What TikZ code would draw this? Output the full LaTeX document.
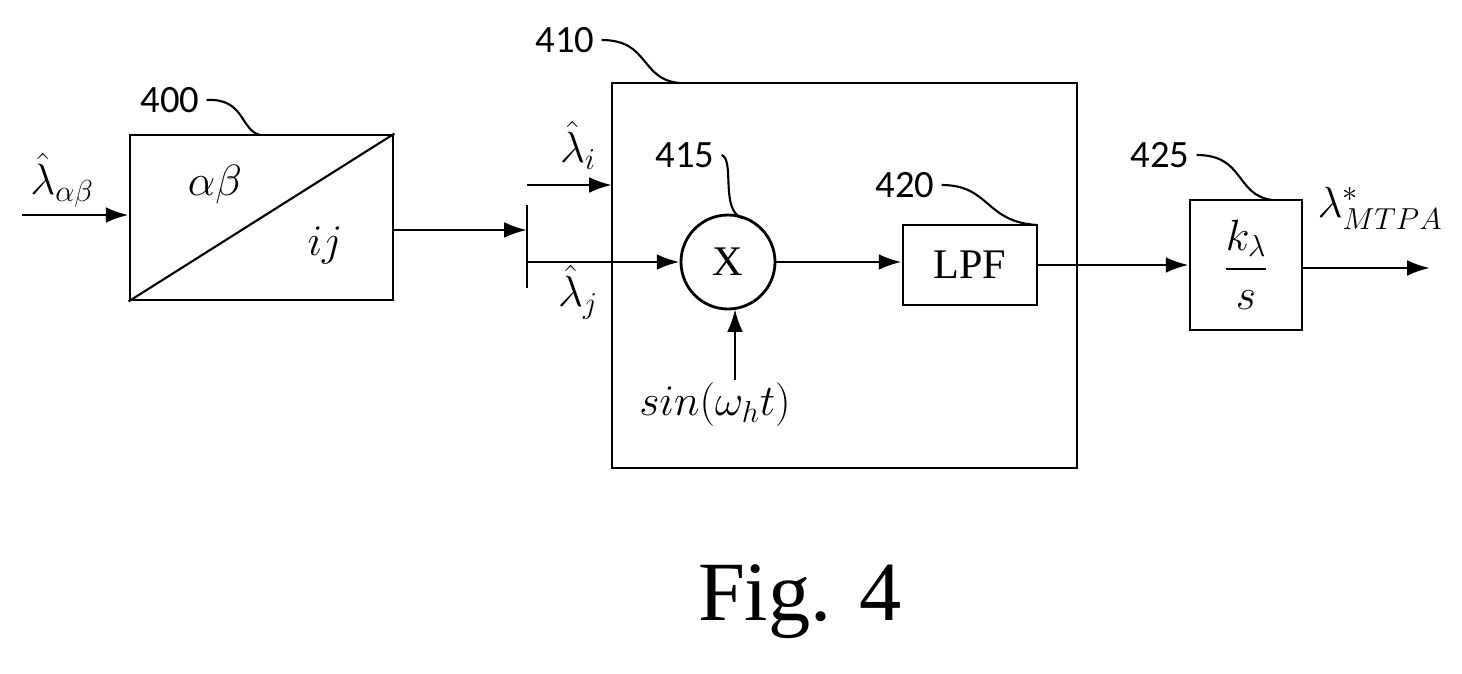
\documentclass[tikz,border=0pt]{standalone}
\usepackage{amsmath}
\usepackage{fontspec}
\setmainfont{Liberation Serif}
\newfontfamily\numfont{Carlito}
\newfontfamily\figfont{Liberation Serif}
\usetikzlibrary{arrows.meta, positioning}
\tikzstyle{block}=[draw, line width=1.6pt, inner sep=0pt]
\tikzstyle{ref}=[font=\numfont\fontsize{22}{22}\selectfont]
\tikzstyle{lbl}=[font=\fontsize{24}{24}\selectfont]

\begin{document}
\begin{tikzpicture}[x=0.02cm, y=-0.02cm, >={Latex[length=13pt,width=9pt]}, line width=1.6pt]
    \useasboundingbox (0,0) rectangle (1462,673);
    \node[block, minimum width=263*0.02cm, minimum height=165*0.02cm] (conv) at (261.5,217.5) {};
    \node[block, minimum width=465*0.02cm, minimum height=385*0.02cm] (est) at (844.5,275.5) {};
    \node[block, circle, minimum size=94*0.02cm, lbl] (mult) at (728,262) {X};
    \node[block, minimum width=134*0.02cm, minimum height=80*0.02cm, lbl] (lpf) at (970,265) {LPF};
    \node[block, minimum width=112*0.02cm, minimum height=130*0.02cm, lbl] (integ) at (1246,265) {$\dfrac{k_\lambda}{s}$};
    \coordinate (in) at (22,215);
    \coordinate (bt) at (527,205);
    \coordinate (bb) at (527,288);
    \coordinate (sinin) at (735,380);
    \coordinate (out) at (1430,268);

    % converter block
    \draw[line width=1.2pt] (conv.south west) -- (conv.north east);
    \node[lbl] at (215,185) {$\alpha\beta$};
    \node[lbl] at (325,245) {$ij$};

    % texts
    \node[lbl] at (62,180) {$\hat\lambda_{\alpha\beta}$};
    \node[lbl] at (578,145) {$\hat\lambda_i$};
    \node[lbl] at (578,292) {$\hat\lambda_j$};
    \node[lbl] (sin) at (715,405) {$sin(\omega_h t)$};
    \node[lbl] at (1380,208) {$\lambda^*_{MTPA}$};
    \node[font=\figfont\fontsize{48}{48}\selectfont] at (800,602) {Fig. 4};

    % reference numerals
    \node[ref] (r400) at (170,100) {400};
    \node[ref] (r410) at (565,40) {410};
    \node[ref] (r415) at (685,155) {415};
    \node[ref] (r420) at (905,185) {420};
    \node[ref] (r425) at (1160,155) {425};
    \draw[line width=1.2pt] (r400.east) .. controls (245,98) and (240,130) .. (260,135);
    \draw[line width=1.2pt] (r410.east) .. controls (650,40) and (640,80) .. (680,83);
    \draw[line width=1.2pt] (r415.east) .. controls (735,160) and (720,210) .. (742,218);
    \draw[line width=1.2pt] (r420.east) .. controls (990,185) and (985,222) .. (1037,225);
    \draw[line width=1.2pt] (r425.east) .. controls (1245,155) and (1235,195) .. (1272,200);

    % signal paths
    \draw[->] (in) -- (in -| conv.west);
    \draw[->] (conv.east |- 0,230) -- (527,230);
    \draw (bt) -- (bb);
    \draw[->] (527,185) -- (612,185);
    \draw[->] (527,262) -- (mult.west);
    \draw[->] (sinin) -- (735,309);
    \draw[->] (mult.east) -- (lpf.west |- mult.east);
    \draw[->] (lpf.east) -- (integ.west);
    \draw[->] (integ.east |- out) -- (out);
\end{tikzpicture}
\end{document}
